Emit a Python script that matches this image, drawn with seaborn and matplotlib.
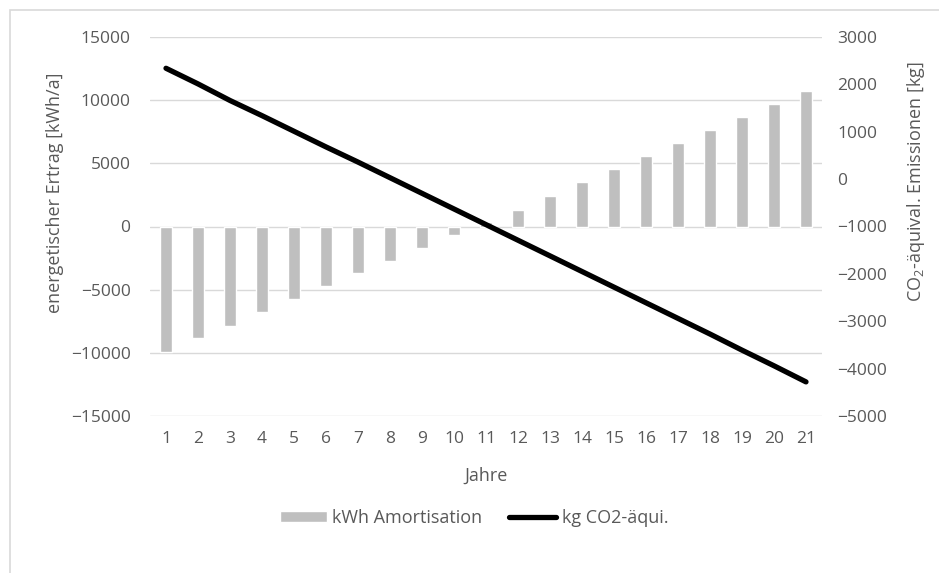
import numpy as np
import pandas as pd
import matplotlib
matplotlib.use("Agg")
import matplotlib.pyplot as plt
import seaborn as sns
from matplotlib.patches import Rectangle

# data
jahre = list(range(1, 22))
kwh_amortisation = [-9950, -8850, -7850, -6730, -5730, -4710, -3690, -2700, -1680, -650,
                    350, 1340, 2450, 3490, 4530, 5550, 6590, 7600, 8640, 9680, 10700]
kg_co2 = [2340, 2010, 1660, 1340, 1010, 680, 360, 30, -300, -630,
          -960, -1290, -1620, -1950, -2280, -2610, -2940, -3270, -3610, -3940, -4280]

left_ticks = [-15000, -10000, -5000, 0, 5000, 10000, 15000]
right_ticks = [-5000, -4000, -3000, -2000, -1000, 0, 1000, 2000, 3000]

DF = pd.DataFrame({"Jahre": jahre, "kWh": kwh_amortisation, "CO2": kg_co2})

sns.set_theme(style="white")
plt.rcParams["font.family"] = ["Open Sans", "DejaVu Sans"]
plt.rcParams["mathtext.fontset"] = "custom"
plt.rcParams["mathtext.rm"] = "Open Sans"
plt.rcParams["mathtext.it"] = "Open Sans"
txt = "#595959"
fs_tick = 12.5
fs_lab = 13

fig = plt.figure(figsize=(9.39, 5.73), dpi=100)
ax = fig.add_axes([150 / 939, 1 - 416 / 573, 672 / 939, 379 / 573])
ax2 = ax.twinx()

sns.barplot(data=DF, x="Jahre", y="kWh", native_scale=True, color="#BFBFBF",
            saturation=1, width=0.39, ax=ax, label="kWh Amortisation")
sns.lineplot(data=DF, x="Jahre", y="CO2", color="black", linewidth=3.8, ax=ax2,
             label="kg CO2-äqui.")

ax.set_xlim(0.5, 21.5)
ax.set_ylim(-15000, 15000)
ax2.set_ylim(-5000, 3000)
ax.set_xticks(jahre)
ax.set_yticks(left_ticks)
ax2.set_yticks(right_ticks)
ax.grid(axis="y", color="#D9D9D9", linewidth=1)
ax.set_axisbelow(True)

for a in (ax, ax2):
    for s in a.spines.values():
        s.set_visible(False)
    a.tick_params(length=0, labelsize=fs_tick, labelcolor=txt)
ax.tick_params(axis="y", pad=14)
ax.tick_params(axis="x", pad=11)
ax2.tick_params(axis="y", pad=11)

ax.set_xlabel("Jahre", fontsize=fs_lab, color=txt, labelpad=14)
ax.set_ylabel("energetischer Ertrag [kWh/a]", fontsize=fs_lab, color=txt)
ax2.set_ylabel("CO$_2$-äquival. Emissionen [kg]", fontsize=fs_lab, color=txt)
ax.yaxis.set_label_coords(-0.128, 0.588)
ax2.yaxis.set_label_coords(1.124, 0.617)

for a in (ax, ax2):
    if a.get_legend():
        a.get_legend().remove()
h1, l1 = ax.get_legend_handles_labels()
h2, l2 = ax2.get_legend_handles_labels()
fig.legend(h1 + h2, l1 + l2, loc="center", bbox_to_anchor=(0.505, 1 - 518 / 573),
           ncol=2, frameon=False, fontsize=fs_lab, labelcolor=txt, handlelength=2.6,
           handleheight=0.55, columnspacing=1.5, handletextpad=0.3)

fig.patches.append(Rectangle((10 / 939, -0.1), 1.2, 1.1 - 10 / 573, transform=fig.transFigure,
                             fill=False, edgecolor="#D9D9D9", linewidth=1.2))

fig.savefig("out.png", dpi=100)
